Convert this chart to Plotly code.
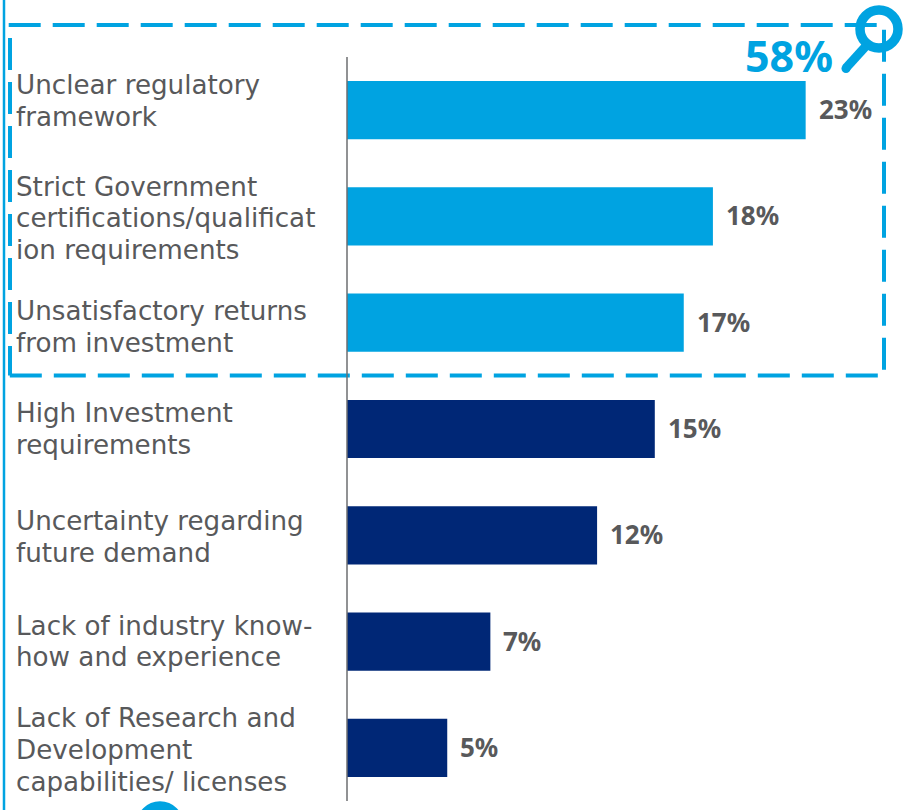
import plotly.graph_objects as go

categories = [
    "Unclear regulatory<br>framework",
    "Strict Government<br>certifications/qualificat<br>ion requirements",
    "Unsatisfactory returns<br>from investment",
    "High Investment<br>requirements",
    "Uncertainty regarding<br>future demand",
    "Lack of industry know-<br>how and experience",
    "Lack of Research and<br>Development<br>capabilities/ licenses",
]
values = [22.65, 18.07, 16.63, 15.2, 12.35, 7.08, 4.95]
value_labels = ["23%", "18%", "17%", "15%", "12%", "7%", "5%"]
highlight_flags = [True, True, True, False, False, False, False]
callout_label = "58%"

W, H = 903, 810
L, T, B = 347, 57, 9
SCALE = 20.25
LINE_H = 31.7
LIGHT, DARK, GREY = "#00A3E1", "#002776", "#58595B"
FONT = "DejaVu Sans"
# vertical nudge of each text block relative to its bar, in pixels (positive = down)
block_nudges = [-9, 2, 4.5, 0, 2, 0, 2]


def px(x):
    return (x - L) / (W - L)


def py(y):
    return 1 - (y - T) / (H - T - B)


fig = go.Figure(go.Bar(
    x=values, y=categories, orientation="h",
    marker=dict(color=[LIGHT if f else DARK for f in highlight_flags], line_width=0),
    width=0.548, hoverinfo="skip",
))

annotations = []
for cat, val, lab, nudge in zip(categories, values, value_labels, block_nudges):
    lines = cat.split("<br>")
    for i, line in enumerate(lines):
        offset = (i - (len(lines) - 1) / 2) * LINE_H + nudge
        annotations.append(dict(
            x=px(13.5), xref="paper", y=cat, yref="y", text=line, showarrow=False,
            xanchor="left", yanchor="middle", align="left", yshift=-offset,
            font=dict(family=FONT, size=26.2, color=GREY),
        ))
    annotations.append(dict(
        x=val, xref="x", y=cat, yref="y", text=f"<b>{lab}</b>", showarrow=False,
        xanchor="left", yanchor="middle", xshift=11, yshift=1,
        font=dict(family="Noto Sans", size=26, color=GREY),
    ))
annotations.append(dict(
    x=px(835), xref="paper", y=py(55), yref="paper", text=f"<b>{callout_label}</b>",
    showarrow=False, xanchor="right", yanchor="middle",
    font=dict(family="Noto Sans", size=43, color=LIGHT),
))


def pshape(**kw):
    return dict(xref="paper", yref="paper", **kw)


DASH = dict(color=LIGHT, width=4, dash="32px,12px")
box_path = (f"M {px(8.7)} {py(25)} L {px(884)} {py(25)} "
            f"L {px(884)} {py(375.5)} L {px(8.7)} {py(375.5)}")
left_path = f"M {px(10)} {py(38)} L {px(10)} {py(375.5)}"

shapes = [
    pshape(type="line", x0=px(4), x1=px(4), y0=py(0), y1=py(810),
           line=dict(color=LIGHT, width=2.5)),
    pshape(type="path", path=box_path, line=DASH),
    pshape(type="path", path=left_path, line=DASH),
    pshape(type="line", x0=px(347), x1=px(347), y0=py(57), y1=py(801),
           line=dict(color="#6D6E71", width=1.5)),
    pshape(type="circle", x0=px(860), x1=px(898), y0=py(10), y1=py(48),
           line=dict(color=LIGHT, width=9.5)),
    pshape(type="line", x0=px(846), x1=px(866), y0=py(68), y1=py(46),
           line=dict(color=LIGHT, width=9)),
    pshape(type="circle", x0=px(841.5), x1=px(850.5), y0=py(64), y1=py(73),
           fillcolor=LIGHT, line_width=0),
    pshape(type="circle", x0=px(141), x1=px(179), y0=py(806), y1=py(844),
           line=dict(color=LIGHT, width=9.5)),
]

fig.update_layout(
    width=W, height=H, autosize=False, paper_bgcolor="white", plot_bgcolor="rgba(0,0,0,0)",
    margin=dict(l=L, r=0, t=T, b=B, pad=0), showlegend=False,
    xaxis=dict(range=[0, (W - L) / SCALE], visible=False, fixedrange=True),
    yaxis=dict(autorange="reversed", visible=False, fixedrange=True),
    annotations=annotations, shapes=shapes,
)
fig.write_html("out.html", config=dict(displayModeBar=False),
               post_script="document.body.style.margin='0';document.body.style.overflow='hidden';")
